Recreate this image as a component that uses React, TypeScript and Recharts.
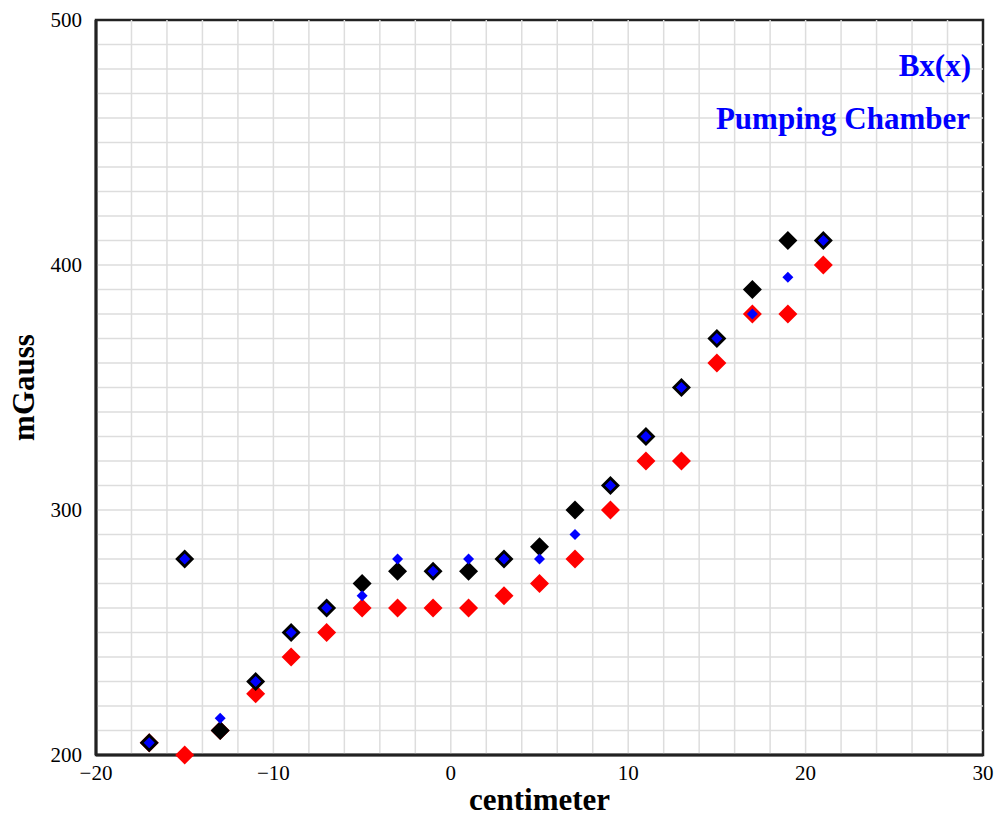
import React from 'react';
import { ScatterChart, Scatter, XAxis, YAxis, ReferenceLine, ReferenceArea, Label } from 'recharts';

// positions along the chamber (cm)
const positions = [-17, -15, -13, -11, -9, -7, -5, -3, -1, 1, 3, 5, 7, 9, 11, 13, 15, 17, 19, 21];
// field readings (mGauss)
const blackVals = [205, 280, 210, 230, 250, 260, 270, 275, 275, 275, 280, 285, 300, 310, 330, 350, 370, 390, 410, 410];
const redVals = [205, 200, 210, 225, 240, 250, 260, 260, 260, 260, 265, 270, 280, 300, 320, 320, 360, 380, 380, 400];
const blueVals = [205, 280, 215, 230, 250, 260, 265, 280, 275, 280, 280, 280, 290, 310, 330, 350, 370, 380, 395, 410];

const xTicks = [-20, -10, 0, 10, 20, 30];
const yTicks = [200, 300, 400, 500];
const gridX = [-18, -16, -14, -12, -10, -8, -6, -4, -2, 0, 2, 4, 6, 8, 10, 12, 14, 16, 18, 20, 22, 24, 26, 28];
const gridY = [210, 220, 230, 240, 250, 260, 270, 280, 290, 300, 310, 320, 330, 340, 350, 360, 370, 380, 390, 400, 410, 420, 430, 440, 450, 460, 470, 480, 490];

const FONT = '"Liberation Serif", "Times New Roman", serif';

const toPoints = (vals: number[]) => positions.map((x, i) => ({ x, y: vals[i] }));

const diamond = (r: number, fill: string) => (p: any) => (
  <path
    d={`M${p.cx},${p.cy - r}L${p.cx + r},${p.cy}L${p.cx},${p.cy + r}L${p.cx - r},${p.cy}Z`}
    fill={fill}
  />
);

const fmt = (v: number) => (v < 0 ? '\u2212' + Math.abs(v) : String(v));

export default function App() {
  return (
    <div style={{ position: 'absolute', left: 0, top: 0, width: 998, height: 817, fontFamily: FONT }}>
      <ScatterChart width={998} height={817} margin={{ top: 20, right: 15, bottom: 0, left: 0 }}>
        {gridX.map(v => (
          <ReferenceLine key={'gx' + v} x={v} stroke="#dddddd" strokeWidth={1.5} />
        ))}
        {gridY.map(v => (
          <ReferenceLine key={'gy' + v} y={v} stroke="#dddddd" strokeWidth={1.5} />
        ))}
        <ReferenceArea x1={-20} x2={30} y1={200} y2={500} fill="none" stroke="#222" strokeWidth={2.5} fillOpacity={0} />
        <XAxis
          type="number"
          dataKey="x"
          domain={[-20, 30]}
          ticks={xTicks}
          tickFormatter={fmt}
          axisLine={{ stroke: '#222', strokeWidth: 3 }}
          tickLine={false}
          tickSize={10}
          tickMargin={0}
          height={62}
          tick={{ fill: '#000', fontSize: 21, fontFamily: FONT }}
        >
          <Label
            content={({ viewBox }: any) => (
              <text
                x={viewBox.x + viewBox.width / 2}
                y={810}
                textAnchor="middle"
                fill="#000"
                fontSize={31}
                fontWeight="bold"
                fontFamily={FONT}
              >
                centimeter
              </text>
            )}
          />
        </XAxis>
        <YAxis
          type="number"
          dataKey="y"
          domain={[200, 500]}
          ticks={yTicks}
          axisLine={{ stroke: '#222', strokeWidth: 3 }}
          tickLine={false}
          tickSize={9}
          tickMargin={5}
          width={96}
          tick={{ fill: '#000', fontSize: 21, fontFamily: FONT }}
        >
          <Label
            content={({ viewBox }: any) => {
              const cy = viewBox.y + viewBox.height / 2;
              return (
                <text
                  x={34}
                  y={cy}
                  transform={`rotate(-90, 34, ${cy})`}
                  textAnchor="middle"
                  fill="#000"
                  fontSize={31}
                  fontWeight="bold"
                  fontFamily={FONT}
                >
                  mGauss
                </text>
              );
            }}
          />
        </YAxis>
        <Scatter data={toPoints(redVals)} shape={diamond(9.5, '#ff0000')} isAnimationActive={false} />
        <Scatter data={toPoints(blackVals)} shape={diamond(9.5, '#000000')} isAnimationActive={false} />
        <Scatter data={toPoints(blueVals)} shape={diamond(5.5, '#0000ff')} isAnimationActive={false} />
      </ScatterChart>
      <svg width={998} height={817} style={{ position: 'absolute', left: 0, top: 0, pointerEvents: 'none' }}>
        <text x={971} y={76} textAnchor="end" fill="#0000ff" fontSize={31} fontWeight="bold" fontFamily={FONT}>
          Bx(x)
        </text>
        <text x={970} y={129} textAnchor="end" fill="#0000ff" fontSize={31} fontWeight="bold" fontFamily={FONT}>
          Pumping Chamber
        </text>
      </svg>
    </div>
  );
}
